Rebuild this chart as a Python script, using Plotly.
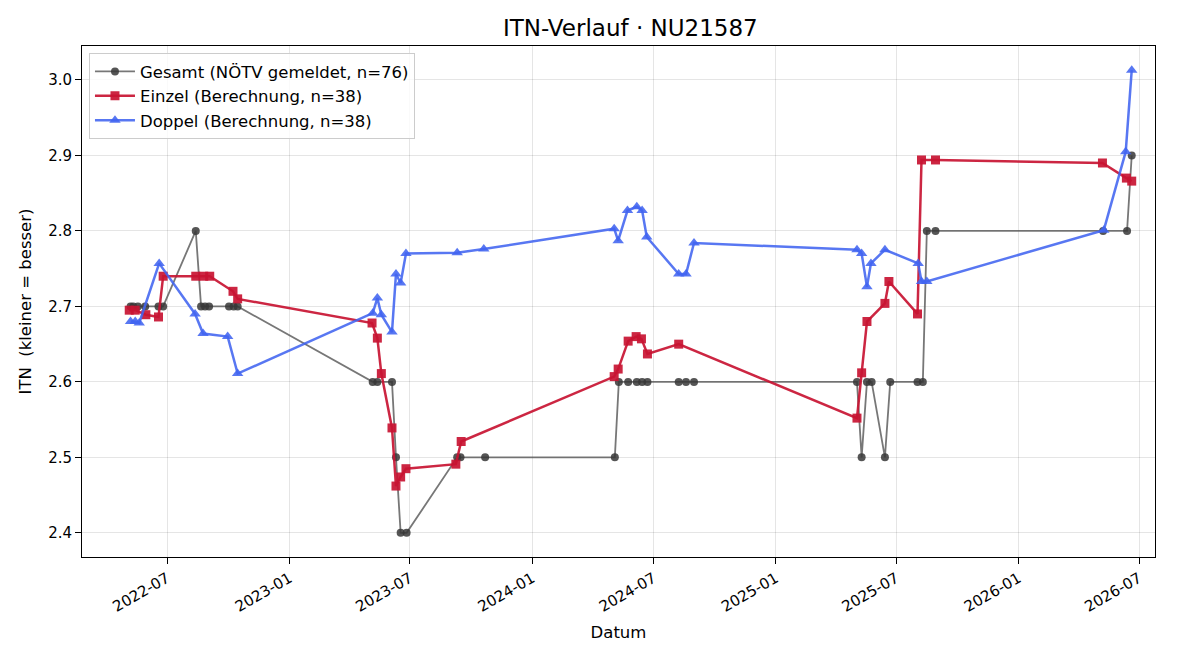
import plotly.graph_objects as go

# ---- data ----
gesamt_dates = ["2022-05-07", "2022-05-11", "2022-05-18", "2022-05-29", "2022-06-18", "2022-06-25",
                "2022-08-13", "2022-08-21", "2022-08-27", "2022-09-02", "2022-10-02", "2022-10-09",
                "2022-10-15", "2023-05-06", "2023-05-13", "2023-06-04", "2023-06-10", "2023-06-17",
                "2023-06-26", "2023-09-10", "2023-09-15", "2023-10-22", "2024-05-04", "2024-05-10",
                "2024-05-24", "2024-06-06", "2024-06-14", "2024-06-22", "2024-08-08", "2024-08-19",
                "2024-08-31", "2025-05-03", "2025-05-10", "2025-05-18", "2025-05-25", "2025-06-14",
                "2025-06-22", "2025-08-02", "2025-08-10", "2025-08-16", "2025-08-29", "2026-05-08",
                "2026-06-13", "2026-06-20"]
gesamt_vals = [2.7, 2.7, 2.7, 2.7, 2.7, 2.7,
               2.8, 2.7, 2.7, 2.7, 2.7, 2.7,
               2.7, 2.6, 2.6, 2.6, 2.5, 2.4,
               2.4, 2.5, 2.5, 2.5, 2.5, 2.6,
               2.6, 2.6, 2.6, 2.6, 2.6, 2.6,
               2.6, 2.6, 2.5, 2.6, 2.6, 2.5,
               2.6, 2.6, 2.6, 2.8, 2.8, 2.8,
               2.8, 2.9]

einzel_dates = ["2022-05-05", "2022-05-14", "2022-05-30", "2022-06-18", "2022-06-25", "2022-08-13",
                "2022-08-25", "2022-09-03", "2022-10-08", "2022-10-15", "2023-05-05", "2023-05-13",
                "2023-05-19", "2023-06-04", "2023-06-10", "2023-06-17", "2023-06-25", "2023-09-08",
                "2023-09-16", "2024-05-03", "2024-05-09", "2024-05-24", "2024-06-05", "2024-06-13",
                "2024-06-22", "2024-08-08", "2025-05-03", "2025-05-10", "2025-05-18", "2025-06-14",
                "2025-06-20", "2025-08-02", "2025-08-08", "2025-08-29", "2026-05-07", "2026-06-12",
                "2026-06-20"]
einzel_vals = [2.695, 2.695, 2.689, 2.686, 2.74, 2.74,
               2.74, 2.74, 2.72, 2.71, 2.678, 2.658,
               2.611, 2.539, 2.462, 2.474, 2.485, 2.491,
               2.521, 2.607, 2.617, 2.654, 2.66, 2.657,
               2.637, 2.65, 2.552, 2.612, 2.68, 2.704,
               2.733, 2.69, 2.894, 2.894, 2.89, 2.87,
               2.866]

doppel_dates = ["2022-05-07", "2022-05-14", "2022-05-20", "2022-06-19", "2022-08-12", "2022-08-24",
                "2022-09-30", "2022-10-15", "2023-05-06", "2023-05-13", "2023-05-19", "2023-06-04",
                "2023-06-10", "2023-06-17", "2023-06-25", "2023-09-10", "2023-10-20", "2024-05-03",
                "2024-05-09", "2024-05-23", "2024-06-06", "2024-06-14", "2024-06-21", "2024-08-08",
                "2024-08-19", "2024-08-31", "2025-05-03", "2025-05-10", "2025-05-18", "2025-05-24",
                "2025-06-14", "2025-08-03", "2025-08-08", "2025-08-16", "2026-05-09", "2026-06-11",
                "2026-06-20"]
doppel_vals = [2.68, 2.68, 2.678, 2.757, 2.69, 2.664,
               2.66, 2.611, 2.691, 2.711, 2.689, 2.666,
               2.743, 2.731, 2.77, 2.771, 2.776, 2.803,
               2.787, 2.827, 2.832, 2.827, 2.792, 2.743,
               2.743, 2.784, 2.775, 2.77, 2.726, 2.757,
               2.775, 2.757, 2.733, 2.733, 2.801, 2.905,
               3.013]

x_ticks = ["2022-07-01", "2023-01-01", "2023-07-01", "2024-01-01", "2024-07-01",
           "2025-01-01", "2025-07-01", "2026-01-01", "2026-07-01"]
x_tick_labels = ["2022-07", "2023-01", "2023-07", "2024-01", "2024-07",
                 "2025-01", "2025-07", "2026-01", "2026-07"]
y_ticks = [2.4, 2.5, 2.6, 2.7, 2.8, 2.9, 3.0]

FONT = "DejaVu Sans"

fig = go.Figure()
fig.add_trace(go.Scatter(
    x=gesamt_dates, y=gesamt_vals, mode="lines+markers",
    name="Gesamt (NÖTV gemeldet, n=76)", legendgroup="g",
    line=dict(color="rgba(85,85,85,0.8)", width=1.8),
    marker=dict(symbol="circle", size=8, color="rgba(55,55,55,0.85)"),
))
fig.add_trace(go.Scatter(
    x=einzel_dates, y=einzel_vals, mode="lines+markers",
    name="Einzel (Berechnung, n=38)", legendgroup="e",
    line=dict(color="rgba(200,20,50,0.92)", width=2.5),
    marker=dict(symbol="square", size=9, color="rgba(200,20,50,0.92)"),
))
fig.add_trace(go.Scatter(
    x=doppel_dates, y=doppel_vals, mode="lines+markers",
    name="Doppel (Berechnung, n=38)", legendgroup="d",
    line=dict(color="rgba(65,100,240,0.88)", width=2.5),
    marker=dict(symbol="triangle-up", size=10, color="rgba(65,100,240,0.88)"),
))

fig.update_layout(
    width=1200, height=660,
    margin=dict(l=82, r=45, t=46, b=103),
    paper_bgcolor="white", plot_bgcolor="white",
    font=dict(family=FONT, size=15, color="black"),
    title=dict(text="ITN-Verlauf · NU21587", x=0.511, xref="paper", xanchor="center",
               y=1 - 28 / 660, yref="container", yanchor="middle",
               font=dict(family=FONT, size=23, color="black")),
    showlegend=True,
    legend=dict(x=0.0065, y=0.986, xanchor="left", yanchor="top",
                bgcolor="rgba(255,255,255,0.8)", bordercolor="#cccccc", borderwidth=1,
                font=dict(family=FONT, size=16.5), tracegroupgap=0,
                itemwidth=40),
)
fig.update_xaxes(
    range=["2022-02-23", "2026-07-25"],
    tickmode="array", tickvals=x_ticks, ticktext=x_tick_labels, tickangle=-30,
    showgrid=True, gridcolor="rgba(0,0,0,0.1)", gridwidth=1,
    showline=True, linecolor="black", linewidth=1, mirror=True,
    ticks="outside", ticklen=6, tickcolor="black",
    tickfont=dict(family=FONT, size=15),
    title=dict(text="Datum", font=dict(family=FONT, size=16.5), standoff=11),
    zeroline=False,
)
fig.update_yaxes(
    range=[2.368, 3.045],
    tickmode="array", tickvals=y_ticks, ticktext=[f"{v:.1f}" for v in y_ticks],
    showgrid=True, gridcolor="rgba(0,0,0,0.1)", gridwidth=1,
    showline=True, linecolor="black", linewidth=1, mirror=True,
    ticks="outside", ticklen=6, tickcolor="black",
    tickfont=dict(family=FONT, size=15),
    title=dict(text="ITN  (kleiner = besser)", font=dict(family=FONT, size=16.5), standoff=12),
    zeroline=False,
)

fig.write_html("out.html")
